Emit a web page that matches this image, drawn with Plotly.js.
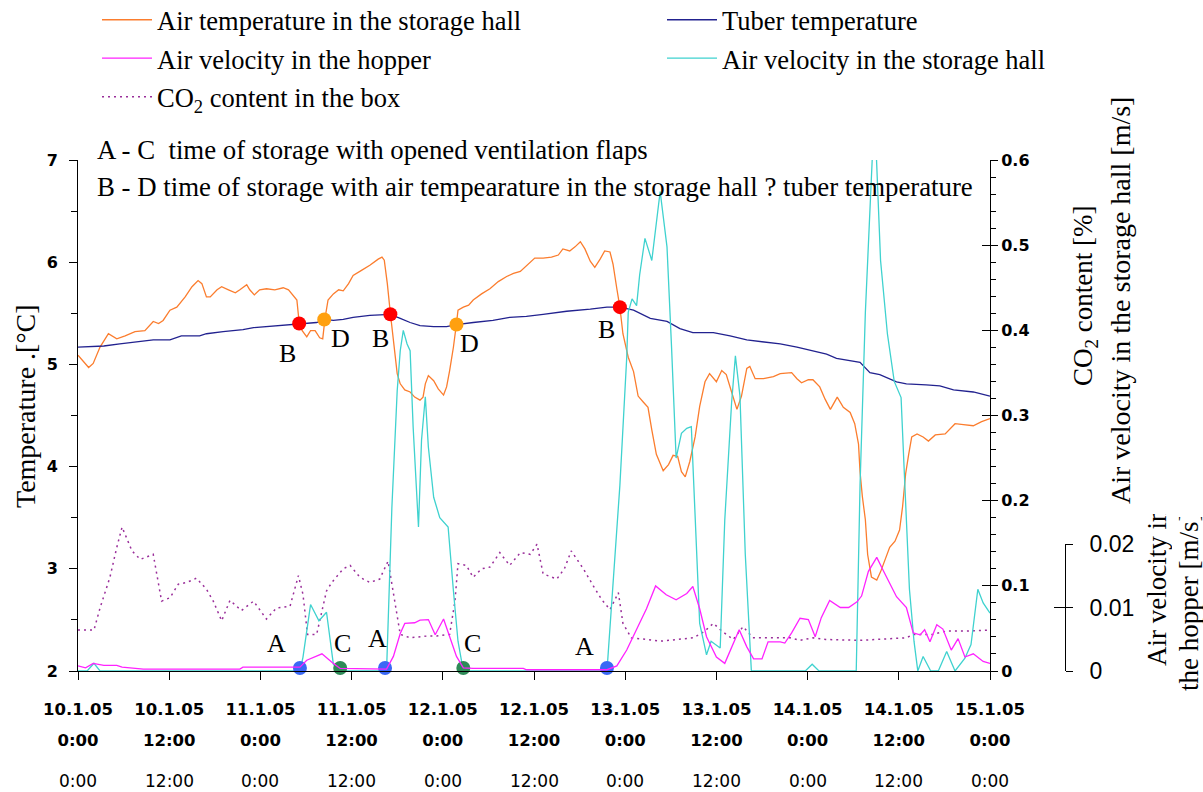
<!DOCTYPE html>
<html>
<head>
<meta charset="utf-8">
<script src="https://cdn.plot.ly/plotly-3.0.1.min.js"></script>
<style>
  html, body { margin: 0; padding: 0; background: #fff; }
  #chart { width: 1203px; height: 792px; }
</style>
</head>
<body>
<div id="chart"></div>
<script>
// Time axis: hours since 10.1.05 0:00
const airHours = [0,1.4,2.0,2.9,4.0,5.1,6.2,7.5,8.8,9.9,10.6,11.2,12.1,13.0,14.1,15.0,15.8,16.3,16.9,17.4,18.3,18.9,19.8,20.7,21.3,22.2,22.6,23.2,23.9,24.8,25.9,27.0,27.7,28.8,29.1,29.5,30.1,30.6,31.2,31.8,32.2,32.5,32.9,33.6,34.3,34.9,35.6,36.2,37.3,38.4,39.5,40.0,40.3,40.7,41.1,41.5,42.0,42.4,43.0,43.7,44.3,45.0,45.4,45.7,46.1,46.8,47.4,48.1,48.5,48.9,49.4,49.8,50.0,50.7,51.4,52.0,53.1,54.2,55.3,56.4,57.3,58.2,59.3,60.1,61.2,62.3,63.2,63.8,64.7,65.4,66.1,66.7,67.4,68.0,68.7,69.3,70.0,70.4,70.9,71.3,71.7,72.4,73.1,73.7,74.4,75.0,75.5,76.1,77.0,77.7,78.3,78.9,79.4,79.9,80.5,81.2,81.8,82.5,83.1,83.6,84.0,84.7,85.3,86.0,86.7,87.3,88.0,88.4,89.1,90.2,91.5,92.4,93.9,94.6,95.2,96.1,96.7,97.6,98.3,99.0,99.9,100.7,101.6,102.2,102.7,102.9,103.2,103.6,103.9,104.4,105.1,105.6,106.2,106.8,107.5,108.1,108.5,108.9,109.3,109.7,110.4,111.2,111.9,112.8,114.1,115.4,116.5,117.8,118.9,120];
const airTemp = [5.09,4.97,5.01,5.17,5.30,5.25,5.28,5.32,5.33,5.42,5.40,5.43,5.53,5.56,5.66,5.76,5.82,5.79,5.66,5.66,5.73,5.76,5.73,5.70,5.73,5.78,5.73,5.68,5.73,5.74,5.73,5.75,5.73,5.63,5.41,5.33,5.27,5.33,5.33,5.26,5.25,5.45,5.63,5.69,5.73,5.72,5.79,5.87,5.92,5.97,6.03,6.05,6.02,5.79,5.50,5.24,4.91,4.81,4.75,4.73,4.68,4.65,4.68,4.81,4.89,4.84,4.76,4.70,4.78,4.94,5.17,5.40,5.53,5.56,5.58,5.63,5.69,5.74,5.81,5.86,5.89,5.91,5.99,6.04,6.04,6.05,6.07,6.13,6.11,6.15,6.20,6.13,6.01,5.95,6.03,6.11,6.10,5.98,5.74,5.56,5.30,5.07,4.93,4.69,4.63,4.58,4.36,4.12,3.96,4.02,4.11,4.10,3.95,3.90,4.05,4.29,4.59,4.83,4.91,4.86,4.83,4.94,4.90,4.73,4.56,4.69,4.96,4.98,4.86,4.86,4.88,4.91,4.92,4.86,4.82,4.85,4.85,4.78,4.66,4.56,4.68,4.58,4.53,4.42,4.22,3.95,3.71,3.48,3.14,2.92,2.89,2.97,3.09,3.21,3.27,3.38,3.61,3.93,4.12,4.29,4.32,4.29,4.25,4.31,4.32,4.42,4.41,4.40,4.44,4.47];

const tuberHours = [0,3.4,5.5,7.7,9.9,12.1,13.6,16.0,16.9,19.1,21.7,23.1,24.8,27.0,29.2,31.4,32.5,33.6,34.9,36.2,38.4,40.2,41.1,42.4,43.7,45.0,46.8,48.5,49.8,52.0,54.6,56.8,59.0,61.2,63.2,64.3,67.4,69.6,71.3,73.1,75.3,77.5,79.2,80.9,83.6,85.8,88.0,90.6,92.4,94.6,96.7,98.5,99.8,102.9,104.2,105.5,107.7,109.0,111.6,113.4,115.2,117.8,120];
const tuberTemp = [5.17,5.18,5.20,5.22,5.24,5.24,5.28,5.28,5.30,5.32,5.34,5.36,5.37,5.38,5.40,5.41,5.44,5.43,5.44,5.46,5.48,5.49,5.49,5.45,5.41,5.38,5.37,5.37,5.39,5.41,5.43,5.46,5.47,5.49,5.51,5.52,5.54,5.56,5.56,5.53,5.45,5.42,5.35,5.31,5.31,5.28,5.24,5.22,5.20,5.17,5.13,5.10,5.06,5.02,4.92,4.90,4.83,4.81,4.80,4.79,4.75,4.73,4.69];

const hopperHours = [0,1.0,2.0,3.4,5.1,5.8,8.6,21.3,21.7,29.2,30.1,32.1,33.6,34.5,40.6,41.5,42.4,43.0,44.3,45.0,46.1,47.0,48.1,49.0,49.8,50.7,52.0,58.6,59.0,69.6,70.9,72.2,73.5,74.8,76.0,77.4,78.7,80.1,80.9,81.8,82.7,84.0,85.1,86.0,87.0,88.0,88.9,90.0,90.8,92.4,93.0,93.9,95.0,96.1,97.0,97.8,98.9,100.3,101.4,102.5,103.1,104.0,105.1,106.0,107.1,107.7,109.0,109.9,110.8,111.4,112.1,113.0,113.8,114.9,115.8,116.7,117.8,119.1,120];
const hopperVelocity = [0.0008,0.0005,0.0012,0.0009,0.0009,0.0006,0.0003,0.0003,0.0006,0.0006,0.0017,0.0027,0.0012,0.0004,0.0003,0.0023,0.0059,0.0075,0.0076,0.008,0.0081,0.0057,0.0082,0.0049,0.0023,0.0005,0.0004,0.0004,0.0002,0.0002,0.0008,0.0033,0.0065,0.0098,0.0134,0.012,0.0112,0.0122,0.0133,0.0098,0.0054,0.0022,0.0012,0.0038,0.0065,0.0038,0.0019,0.0019,0.0046,0.0046,0.0044,0.006,0.0083,0.0081,0.0054,0.0084,0.0111,0.01,0.01,0.0109,0.0118,0.0157,0.0179,0.0157,0.013,0.0117,0.01,0.006,0.0057,0.0065,0.0046,0.0073,0.0066,0.0033,0.0051,0.0022,0.0027,0.0015,0.0012];

const hallHours = [0,1.2,2.1,2.9,29.2,29.6,30.6,31.7,32.7,33.6,34.5,40.6,41.3,42.0,42.4,42.8,43.3,43.7,44.1,44.8,45.2,45.7,46.1,46.8,47.6,48.7,49.4,50.0,50.7,69.6,71.3,72.2,72.4,72.9,73.5,73.9,74.6,75.5,76.6,77.5,78.1,78.7,79.4,80.1,80.7,81.2,81.8,82.7,83.3,84.5,85.1,86.0,86.5,87.1,87.8,88.6,95.7,96.6,97.5,102.4,102.9,103.6,104.8,105.6,106.5,107.4,108.3,108.7,109.4,110.0,110.5,111.2,112.2,113.2,114.3,115.4,116.7,117.5,118.4,119.1,120];
const hallVelocity = [0,0,0.009,0,0,0.016,0.078,0.059,0.069,0.008,0,0,0.192,0.329,0.376,0.40,0.384,0.376,0.286,0.169,0.271,0.322,0.263,0.204,0.18,0.169,0.094,0.035,0,0,0.218,0.368,0.421,0.437,0.429,0.465,0.508,0.482,0.563,0.498,0.38,0.25,0.279,0.285,0.287,0.177,0.056,0.019,0.035,0.027,0.177,0.315,0.37,0.323,0.137,0,0,0.008,0,0,0.218,0.421,0.66,0.482,0.396,0.34,0.321,0.238,0.096,0.035,0,0.017,0,0,0.023,0,0.015,0.031,0.096,0.08,0.068];

const co2Hours = [0,2.1,2.9,4.2,5.1,5.8,7.1,8.2,9.9,11.0,12.1,13.2,14.3,15.6,16.9,17.8,18.9,20.0,21.5,23.1,24.8,26.1,27.9,29.0,29.6,30.2,31.4,32.7,33.4,34.9,35.8,37.1,38.4,39.7,40.8,41.5,42.4,43.7,45.9,47.2,48.9,49.6,50.0,51.1,52.0,53.1,54.2,55.5,56.8,58.2,59.5,60.4,61.2,63.0,64.0,64.9,66.5,67.8,68.9,70.0,71.1,71.7,72.8,74.8,76.6,78.8,81.0,82.5,83.6,84.7,86.2,87.5,88.8,91.5,93.7,95.0,96.7,98.4,102.9,109.0,109.9,112.5,114.3,116.9,120];
const co2Content = [0.048,0.048,0.074,0.11,0.145,0.169,0.141,0.131,0.137,0.082,0.086,0.102,0.104,0.109,0.096,0.082,0.059,0.083,0.071,0.082,0.061,0.074,0.076,0.112,0.09,0.043,0.043,0.094,0.104,0.12,0.124,0.11,0.104,0.108,0.129,0.09,0.043,0.039,0.041,0.041,0.043,0.082,0.126,0.124,0.11,0.12,0.122,0.139,0.124,0.139,0.137,0.149,0.114,0.108,0.12,0.141,0.12,0.1,0.084,0.072,0.092,0.056,0.039,0.037,0.035,0.037,0.039,0.047,0.056,0.047,0.037,0.052,0.039,0.039,0.039,0.036,0.039,0.037,0.036,0.039,0.043,0.043,0.047,0.047,0.048];

// Event points: B/D on the tuber curve, A/C on the base line
const bHours = [29.1, 41.1, 71.3];
const bTemp = [5.40, 5.49, 5.56];
const dHours = [32.4, 49.8];
const dTemp = [5.44, 5.39];
const aHours = [29.2, 40.4, 69.6];
const aLevel = [2.03, 2.03, 2.03];
const cHours = [34.5, 50.7];
const cLevel = [2.03, 2.03];

// Tick labels
const tickHours = [0,12,24,36,48,60,72,84,96,108,120];
const tickDays = ['10.1.05','10.1.05','11.1.05','11.1.05','12.1.05','12.1.05','13.1.05','13.1.05','14.1.05','14.1.05','15.1.05'];
const tickTimes = ['0:00','12:00','0:00','12:00','0:00','12:00','0:00','12:00','0:00','12:00','0:00'];
const tempTicks = [2,3,4,5,6,7];
const hopperTicks = [0, 0.01, 0.02];

// ---- page geometry (pixels) ----
const W = 1203, H = 792, ML = 78, MR = 20, MT = 160, MB = 121;
const plotW = W - ML - MR, plotH = H - MT - MB;
const px = x => (x - ML) / plotW;           // pixel x -> paper x
const py = y => (H - MB - y) / plotH;       // pixel y -> paper y
const xEnd = px(990);
const hopperPos = px(1065);
const hopperTop = py(544);

const serif = 'Liberation Serif, Times New Roman, serif';
const sansFam = 'DejaVu Sans, Verdana, sans-serif';
const sansBold = {family: sansFam, size: 16.5, color: '#000', weight: 'bold'};

const lineTrace = (x, y, name, color, extra) => Object.assign({
  type: 'scatter', mode: 'lines', x: x, y: y, name: name,
  line: {color: color, width: 1.3}, hoverinfo: 'skip'
}, extra || {});

// event markers live on the overlay axes x2 / y6 so they sit above the lines
const pointTrace = (x, y, color) => ({
  type: 'scatter', mode: 'markers', x: x, y: y, xaxis: 'x2', yaxis: 'y6',
  marker: {color: color, size: 14, line: {width: 0}},
  showlegend: false, cliponaxis: false, hoverinfo: 'skip'
});

const data = [
  lineTrace(airHours, airTemp, 'Air temperature in the storage hall', '#fb7d2e', {legend: 'legend', legendgroup: 'g1'}),
  lineTrace(tuberHours, tuberTemp, 'Tuber temperature', '#22228f', {legend: 'legend2', legendgroup: 'g2'}),
  lineTrace(hopperHours, hopperVelocity, 'Air velocity in the hopper', '#ff22ff', {yaxis: 'y3', legend: 'legend', legendgroup: 'g3'}),
  lineTrace(hallHours, hallVelocity, 'Air velocity in the storage hall', '#3fd2cf', {yaxis: 'y4', legend: 'legend2', legendgroup: 'g4'}),
  lineTrace(co2Hours, co2Content, 'CO<sub>2</sub> content in the box', '#9a2e9a', {yaxis: 'y2', legend: 'legend', legendgroup: 'g5', line: {color: '#9a2e9a', width: 1.5, dash: '2px,4px'}}),
  pointTrace(bHours, bTemp, '#ff0000'),
  pointTrace(dHours, dTemp, '#ffa010'),
  pointTrace(aHours, aLevel, '#3a68f5'),
  pointTrace(cHours, cLevel, '#2e8b57'),
  // no data: only keeps the inner tick marks of the hopper axis on the page
  {type: 'scatter', mode: 'lines', x: [], y: [], yaxis: 'y5', showlegend: false, hoverinfo: 'skip'}
];

// label offsets in pixels (dx right, dy down) for the event letters
const letterSets = [
  {text: 'B', x: bHours, y: bTemp, off: [[-12, 30], [-10, 24], [-13, 22]]},
  {text: 'D', x: dHours, y: dTemp, off: [[16, 19], [13, 19]]},
  {text: 'A', x: aHours, y: aLevel, off: [[-23, -24], [-8, -29], [-22, -21]]},
  {text: 'C', x: cHours, y: cLevel, off: [[2, -24], [9, -24]]}
];

const annotations = [];
letterSets.forEach(s => s.x.forEach((h, i) => {
  annotations.push({
    xref: 'x', yref: 'y6', x: h, y: s.y[i], text: s.text, showarrow: false,
    xshift: s.off[i][0], yshift: -s.off[i][1],
    font: {family: serif, size: 26, color: '#000'}
  });
}));

const note = (text, y) => ({
  xref: 'paper', yref: 'paper', x: px(95), y: py(y), xanchor: 'left', yanchor: 'middle',
  text: text, showarrow: false, font: {family: serif, size: 26.8, color: '#000'}
});
annotations.push(note('A - C\u00a0 time of storage with opened ventilation flaps', 150));
annotations.push(note('B - D time of storage with air tempearature in the storage hall ? tuber temperature', 187));

const vtitle = (text, x, y, size, extra) => Object.assign({
  xref: 'paper', yref: 'paper', x: px(x), y: py(y), xanchor: 'center', yanchor: 'middle',
  text: text, textangle: -90, showarrow: false, font: {family: serif, size: size, color: '#000'}
}, extra || {});
annotations.push(vtitle('Temperature .[°C]', 25, 406, 28));
annotations.push(vtitle('CO<sub>2</sub> content [%]', 1085, 296, 27));
annotations.push(vtitle('Air velocity in the storage hall [m/s]', 1120, 301, 28));
annotations.push(vtitle('Air velocity in', 1157, 668, 27, {yanchor: 'bottom', width: 152, align: 'left'}));
annotations.push(vtitle('the hopper [m/s]', 1189, 693, 27, {yanchor: 'bottom', width: 174, align: 'left'}));

// third row of time labels
tickHours.forEach((h, i) => {
  annotations.push({
    xref: 'x', yref: 'paper', x: h, y: py(769), xanchor: 'center', yanchor: 'top',
    text: tickTimes[i], showarrow: false,
    font: {family: sansFam, size: 17, color: '#000'}
  });
});

const legendBase = {
  orientation: 'v', xanchor: 'left', yanchor: 'top', y: py(-4),
  font: {family: serif, size: 26.5, color: '#000'}, bgcolor: 'rgba(0,0,0,0)',
  tracegroupgap: 1, itemwidth: 50, itemclick: false, itemdoubleclick: false
};

const layout = {
  width: W, height: H,
  margin: {l: ML, r: MR, t: MT, b: MB, pad: 0, autoexpand: false},
  paper_bgcolor: '#fff', plot_bgcolor: 'rgba(0,0,0,0)',
  font: {family: serif, color: '#000'},
  showlegend: true,
  legend: Object.assign({}, legendBase, {x: px(97)}),
  legend2: Object.assign({}, legendBase, {x: px(662)}),
  xaxis: {
    domain: [0, xEnd], range: [0, 120], anchor: 'y',
    tickmode: 'array', tickvals: tickHours, ticktext: tickDays,
    ticks: 'outside', ticklen: 8, tickcolor: '#000', tickwidth: 1,
    showline: true, linecolor: '#000', linewidth: 1,
    showgrid: false, zeroline: false, tickfont: sansBold, ticklabelstandoff: 15
  },
  xaxis2: {
    overlaying: 'x', anchor: 'y', side: 'bottom', range: [0, 120],
    tickmode: 'array', tickvals: tickHours, ticktext: tickTimes,
    ticks: '', showline: false, showgrid: false, zeroline: false,
    tickfont: sansBold, ticklabelstandoff: 57
  },
  yaxis: {
    domain: [0, 1], range: [2, 7], anchor: 'x',
    tickmode: 'array', tickvals: tempTicks,
    ticks: 'outside', ticklen: 8, tickcolor: '#000',
    minor: {dtick: 0.5, ticks: 'outside', ticklen: 6, tickcolor: '#000'},
    showline: true, linecolor: '#000', linewidth: 1,
    showgrid: false, zeroline: false,
    tickfont: {family: sansFam, size: 16, color: '#000', weight: 'bold'},
    ticklabelstandoff: 8
  },
  yaxis2: {
    overlaying: 'y', side: 'right', anchor: 'x', range: [0, 0.6], dtick: 0.1,
    ticks: 'outside', ticklen: 7, tickcolor: '#000',
    minor: {dtick: 0.02, ticks: 'outside', ticklen: 5, tickcolor: '#000'},
    showline: true, linecolor: '#000', linewidth: 1,
    showgrid: false, zeroline: false,
    tickfont: {family: sansFam, size: 16, color: '#000', weight: 'bold'},
    ticklabelstandoff: 0
  },
  yaxis4: {
    overlaying: 'y', side: 'right', anchor: 'x', range: [0, 0.6], dtick: 0.1,
    ticks: 'inside', ticklen: 8, tickcolor: '#000', showticklabels: false,
    showline: false, showgrid: false, zeroline: false
  },
  yaxis3: {
    anchor: 'free', position: hopperPos, side: 'right', domain: [0, hopperTop],
    range: [0, 0.02], tickmode: 'array', tickvals: hopperTicks,
    ticks: 'outside', ticklen: 7, tickcolor: '#000',
    showline: true, linecolor: '#000', linewidth: 1,
    showgrid: false, zeroline: false,
    tickfont: {family: 'Liberation Sans, Arial, sans-serif', size: 23, color: '#000'},
    ticklabelstandoff: 12
  },
  yaxis5: {
    overlaying: 'y3', anchor: 'free', position: hopperPos, side: 'right',
    range: [0, 0.02], tickmode: 'array', tickvals: hopperTicks,
    ticks: 'inside', ticklen: 11, tickcolor: '#000', showticklabels: false,
    showline: false, showgrid: false, zeroline: false
  },
  yaxis6: {
    overlaying: 'y', anchor: 'x', range: [2, 7], visible: false
  },
  annotations: annotations
};

Plotly.newPlot('chart', data, layout, {displayModeBar: false, staticPlot: true});
</script>
</body>
</html>
